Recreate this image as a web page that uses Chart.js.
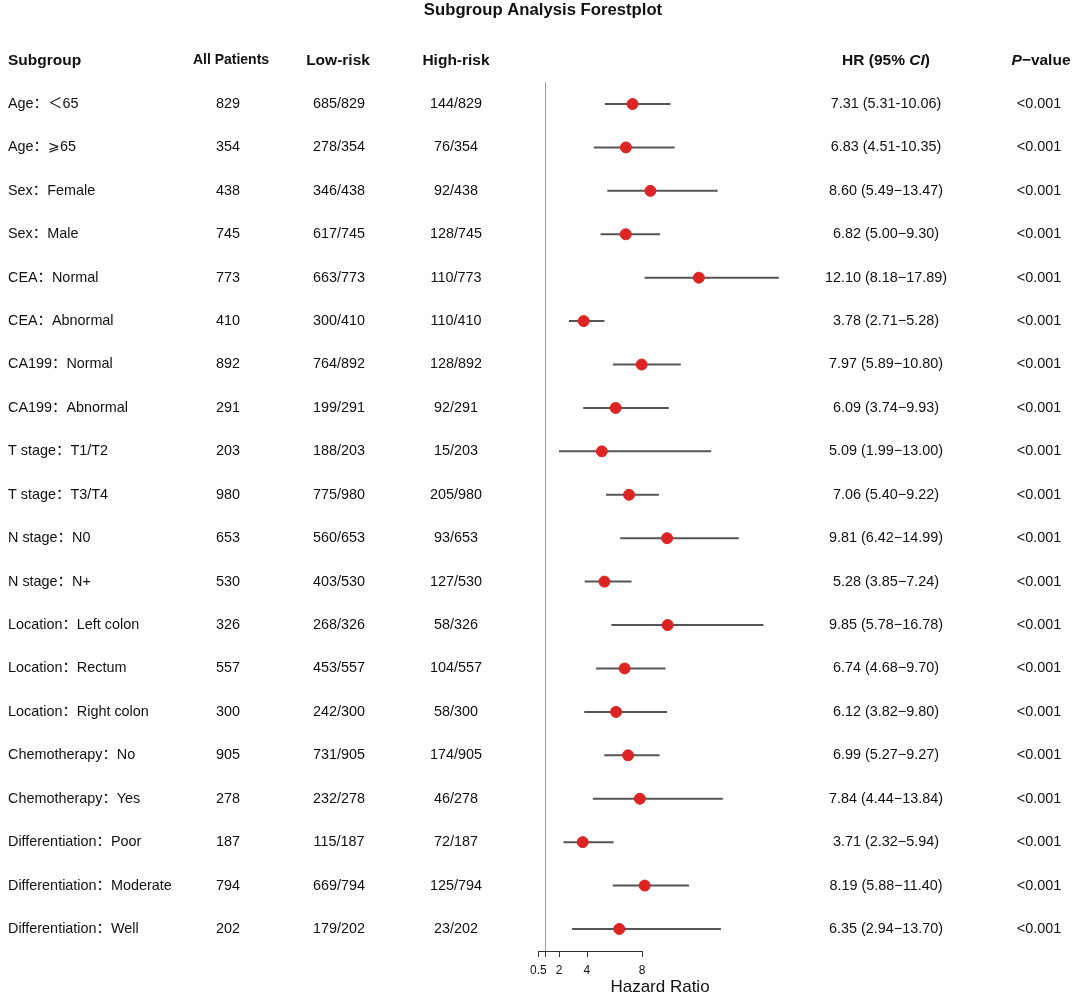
<!DOCTYPE html>
<html>
<head>
<meta charset="utf-8">
<script src="https://cdn.jsdelivr.net/npm/chart.js@4/dist/chart.umd.min.js"></script>
<style>
  body { margin: 0; background: #fff; }
  #wrap { width: 1080px; height: 1001px; }
</style>
</head>
<body>
<div id="wrap"><canvas id="forest" width="1080" height="1001"></canvas></div>
<script>
const subgroups = ['Age：＜65', 'Age：⩾65', 'Sex：Female', 'Sex：Male', 'CEA：Normal', 'CEA：Abnormal',
    'CA199：Normal', 'CA199：Abnormal', 'T stage：T1/T2', 'T stage：T3/T4', 'N stage：N0', 'N stage：N+',
    'Location：Left colon', 'Location：Rectum', 'Location：Right colon', 'Chemotherapy：No',
    'Chemotherapy：Yes', 'Differentiation：Poor', 'Differentiation：Moderate', 'Differentiation：Well'];
const allPatients = [829, 354, 438, 745, 773, 410, 892, 291, 203, 980, 653, 530, 326, 557, 300, 905, 278, 187, 794, 202];
const lowRisk = [685, 278, 346, 617, 663, 300, 764, 199, 188, 775, 560, 403, 268, 453, 242, 731, 232, 115, 669, 179];
const highRisk = [144, 76, 92, 128, 110, 110, 128, 92, 15, 205, 93, 127, 58, 104, 58, 174, 46, 72, 125, 23];
const hr = [7.31, 6.83, 8.60, 6.82, 12.10, 3.78, 7.97, 6.09, 5.09, 7.06, 9.81, 5.28, 9.85, 6.74, 6.12, 6.99, 7.84, 3.71, 8.19, 6.35];
const ciLow = [5.31, 4.51, 5.49, 5.00, 8.18, 2.71, 5.89, 3.74, 1.99, 5.40, 6.42, 3.85, 5.78, 4.68, 3.82, 5.27, 4.44, 2.32, 5.88, 2.94];
const ciHigh = [10.06, 10.35, 13.47, 9.30, 17.89, 5.28, 10.80, 9.93, 13.00, 9.22, 14.99, 7.24, 16.78, 9.70, 9.80, 9.27, 13.84, 5.94, 11.40, 13.70];
const pValues = ['<0.001', '<0.001', '<0.001', '<0.001', '<0.001', '<0.001', '<0.001', '<0.001', '<0.001', '<0.001',
    '<0.001', '<0.001', '<0.001', '<0.001', '<0.001', '<0.001', '<0.001', '<0.001', '<0.001', '<0.001'];
const xTicks = [0.5, 1, 2, 4, 8];
const xTickLabels = ['0.5', '', '2', '4', '8'];

const FONT = '"Liberation Sans", "Noto Sans CJK SC", Arial, sans-serif';

// whiskers: one line dataset, NaN points break it into segments
let ciPoints = [];
hr.forEach(function (v, i) {
    ciPoints.push({ x: ciLow[i], y: i }, { x: ciHigh[i], y: i }, { x: NaN, y: NaN });
});
let hrPoints = hr.map(function (v, i) { return { x: v, y: i }; });

function hrLabel(i) {
    let dash = i < 2 ? '-' : '\u2212';
    return hr[i].toFixed(2) + ' (' + ciLow[i].toFixed(2) + dash + ciHigh[i].toFixed(2) + ')';
}

// draws pieces of text in a row, each with its own font, centred on cx
function mixedText(ctx, parts, cx, y) {
    let widths = parts.map(function (p) { ctx.font = p[1]; return ctx.measureText(p[0]).width; });
    let total = widths.reduce(function (a, b) { return a + b; }, 0);
    let x = cx - total / 2;
    ctx.textAlign = 'left';
    parts.forEach(function (p, k) {
        ctx.font = p[1];
        ctx.fillText(p[0], x, y);
        x += widths[k];
    });
}

const tablePlugin = {
    id: 'table',
    beforeDatasetsDraw: function (chart) {
        const ctx = chart.ctx, xs = chart.scales.x, ys = chart.scales.y;
        // reference line at HR = 1
        let rx = Math.round(xs.getPixelForValue(1)) + 0.5;
        ctx.save();
        ctx.strokeStyle = '#9a9a9a';
        ctx.lineWidth = 1;
        ctx.beginPath();
        ctx.moveTo(rx, ys.getPixelForValue(-0.5));
        ctx.lineTo(rx, chart.chartArea.bottom);
        ctx.stroke();
        ctx.restore();
    },
    afterDraw: function (chart) {
        const ctx = chart.ctx, xs = chart.scales.x, ys = chart.scales.y;
        const bold = 'bold 15.5px ' + FONT, boldIt = 'italic bold 15.5px ' + FONT;
        ctx.save();
        ctx.fillStyle = '#111';
        ctx.textBaseline = 'middle';

        // title
        ctx.font = 'bold 16.7px ' + FONT;
        ctx.textAlign = 'center';
        ctx.fillText('Subgroup Analysis Forestplot', 543, 10);

        // header row
        let hy = ys.getPixelForValue(-1);
        ctx.font = bold;
        ctx.textAlign = 'left';
        ctx.fillText('Subgroup', 8, hy);
        ctx.textAlign = 'center';
        ctx.font = 'bold 14px ' + FONT;
        ctx.fillText('All Patients', 231, hy);
        ctx.font = bold;
        ctx.fillText('Low-risk', 338, hy);
        ctx.fillText('High-risk', 456, hy);
        mixedText(ctx, [['HR (95% ', bold], ['CI', boldIt], [')', bold]], 886, hy);
        mixedText(ctx, [['P', boldIt], ['\u2212value', bold]], 1041, hy);

        // body rows
        ctx.font = '14.4px ' + FONT;
        subgroups.forEach(function (s, i) {
            let y = ys.getPixelForValue(i);
            ctx.textAlign = 'left';
            ctx.fillText(s, 8, y);
            ctx.textAlign = 'center';
            ctx.fillText(String(allPatients[i]), 228, y);
            ctx.fillText(lowRisk[i] + '/' + allPatients[i], 339, y);
            ctx.fillText(highRisk[i] + '/' + allPatients[i], 456, y);
            ctx.fillText(hrLabel(i), 886, y);
            ctx.fillText(pValues[i], 1039, y);
        });

        // x axis
        let ay = chart.chartArea.bottom;
        ctx.strokeStyle = '#333';
        ctx.lineWidth = 1;
        ctx.beginPath();
        ctx.moveTo(xs.getPixelForValue(xTicks[0]), ay + 0.5);
        ctx.lineTo(xs.getPixelForValue(xTicks[xTicks.length - 1]), ay + 0.5);
        xTicks.forEach(function (t) {
            let tx = Math.round(xs.getPixelForValue(t)) + 0.5;
            ctx.moveTo(tx, ay);
            ctx.lineTo(tx, ay + 6);
        });
        ctx.stroke();
        ctx.font = '12px ' + FONT;
        ctx.textAlign = 'center';
        xTicks.forEach(function (t, i) {
            ctx.fillText(xTickLabels[i], xs.getPixelForValue(t), ay + 20);
        });
        ctx.font = '17px ' + FONT;
        ctx.fillText('Hazard Ratio', 660, ay + 36);
        ctx.restore();
    }
};

const CHART = document.getElementById('forest');
let forest = new Chart(CHART, {
    type: 'scatter',
    data: {
        datasets: [
            {
                label: 'HR',
                data: hrPoints,
                backgroundColor: '#dd2424',
                borderColor: '#dd2424',
                pointRadius: 5.5,
                order: 1
            },
            {
                label: '95% CI',
                data: ciPoints,
                showLine: true,
                spanGaps: false,
                borderColor: '#555555',
                borderWidth: 2,
                pointRadius: 0,
                order: 2
            }
        ]
    },
    options: {
        responsive: false,
        animation: false,
        layout: { padding: { top: 39, bottom: 50, left: 0, right: 0 } },
        plugins: { legend: { display: false }, tooltip: { enabled: false }, title: { display: false } },
        scales: {
            x: { type: 'linear', display: false, min: -531.3 / 14, max: (1080 - 531.3) / 14 },
            y: { type: 'linear', display: false, reverse: true, min: -1.497, max: 19.507 }
        }
    },
    plugins: [tablePlugin]
});
</script>
</body>
</html>
